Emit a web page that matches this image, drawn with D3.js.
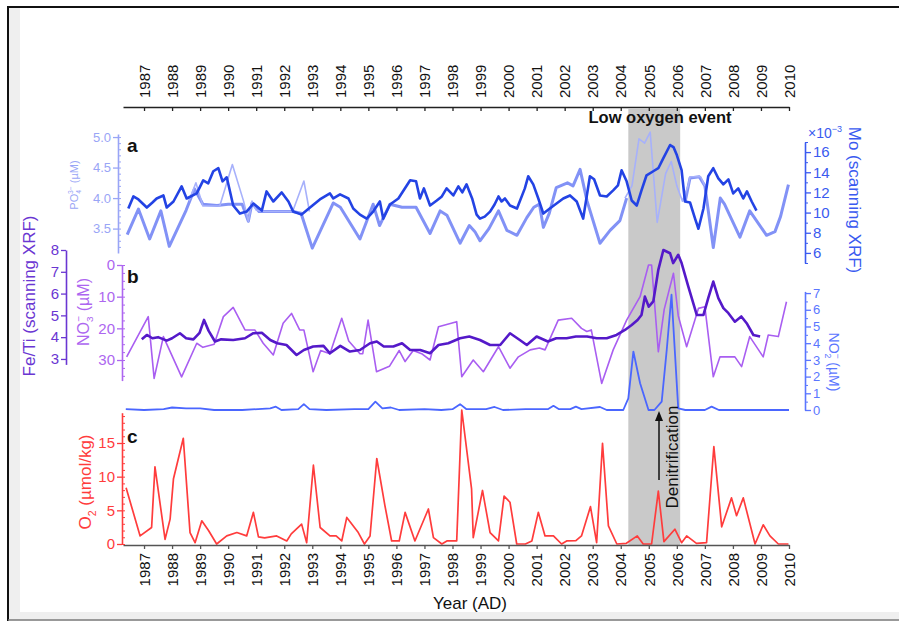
<!DOCTYPE html>
<html><head><meta charset="utf-8">
<script src="https://cdn.jsdelivr.net/npm/d3@7"></script>
<style>body{margin:0;background:#fff}svg{display:block;font-family:"Liberation Sans",Arial,sans-serif}</style>
</head><body><svg id="c" width="899" height="621"></svg>
<script>
// ---------------- DATA ----------------
const years = d3.range(1987, 2011);
const lowOxygen = [2004.27, 2006.12];

const po4Ticks = [3.5, 4.0, 4.5, 5.0];
const moTicks = [6, 8, 10, 12, 14, 16];
const fetiTicks = [3, 4, 5, 6, 7, 8];
const no3Ticks = [0, 10, 20, 30];
const no2Ticks = [0, 1, 2, 3, 4, 5, 6, 7];
const o2Ticks = [0, 5, 10, 15];

// PO4 (thick, interpolated series) [year, µM]
const po4Thick = [[1986.4,3.40],[1986.8,3.82],[1987.2,3.33],[1987.6,3.79],[1987.9,3.21],[1988.5,3.80],[1988.8,4.15],[1989.1,3.90],[1989.6,3.88],[1990.0,3.90],[1990.5,3.90],[1990.72,3.62],[1990.85,3.92],[1991.1,3.78],[1992.3,3.78],[1992.6,3.75],[1993.0,3.18],[1993.75,3.92],[1994.0,3.85],[1994.7,3.33],[1995.17,3.90],[1995.4,3.55],[1995.77,3.90],[1996.2,3.85],[1996.7,3.85],[1997.2,3.42],[1997.56,3.79],[1997.8,3.72],[1998.27,3.26],[1998.6,3.55],[1998.8,3.45],[1998.98,3.30],[1999.3,3.50],[1999.64,3.79],[1999.94,3.47],[2000.3,3.39],[2000.65,3.68],[2000.9,3.85],[2001.1,3.90],[2001.24,3.52],[2001.45,3.75],[2001.7,4.17],[2002.1,4.25],[2002.3,4.20],[2002.55,4.47],[2002.8,3.95],[2003.26,3.26],[2003.62,3.47],[2003.97,3.63],[2004.21,4.00],[NaN,NaN],[2006.3,3.95],[2006.47,4.33],[2006.8,4.35],[2007.0,4.20],[2007.3,3.19],[2007.55,4.00],[2007.7,3.90],[2008.25,3.36],[2008.6,3.79],[2009.2,3.39],[2009.5,3.45],[2009.7,3.70],[2009.98,4.22]];
// PO4 (thin, measured) [year, µM]
const po4Thin = [[1988.6,3.95],[1988.85,4.25],[1989.1,3.87],[1989.7,3.87],[1990.15,4.55],[1990.55,3.95],[1990.72,3.62],[1990.85,3.95],[1991.0,3.80],[1991.3,3.78],[1992.3,3.78],[1992.7,4.28],[1992.9,3.78],[NaN,NaN],[2004.15,4.00],[2004.4,4.20],[2004.65,4.97],[2004.85,4.90],[2005.05,5.08],[2005.3,3.60],[2005.6,4.40],[2005.8,4.60],[2006.0,4.20],[2006.2,3.95],[2006.4,4.20],[2006.47,4.35],[2006.85,4.35],[2007.0,4.20]];
// Mo (scanning XRF, x10^-3) [year, value]
const moData = [[1986.44,10.4],[1986.62,11.6],[1986.8,11.3],[1987.1,10.5],[1987.3,11.0],[1987.45,11.4],[1987.69,11.7],[1987.81,10.5],[1988.05,11.1],[1988.34,12.6],[1988.52,11.4],[1988.88,11.9],[1989.11,13.2],[1989.29,12.9],[1989.47,14.1],[1989.65,14.4],[1989.8,13.1],[1989.95,13.5],[1990.18,10.7],[1990.42,9.9],[1990.66,10.1],[1990.9,10.9],[1991.2,10.2],[1991.37,12.1],[1991.61,11.1],[1991.91,12.0],[1992.15,11.1],[1992.32,10.1],[1992.62,9.8],[1992.92,10.5],[1993.27,11.3],[1993.63,11.9],[1993.75,11.4],[1993.99,11.8],[1994.29,11.4],[1994.46,10.4],[1994.7,9.8],[1994.94,9.4],[1995.17,10.1],[1995.41,11.1],[1995.53,9.4],[1995.77,10.8],[1996.07,11.4],[1996.49,13.2],[1996.7,13.1],[1996.84,11.4],[1996.98,12.4],[1997.2,10.7],[1997.44,11.2],[1997.62,11.6],[1997.79,12.4],[1998.03,11.7],[1998.21,12.6],[1998.35,12.0],[1998.5,12.8],[1998.7,11.4],[1998.86,9.8],[1998.98,9.4],[1999.15,9.6],[1999.34,10.1],[1999.5,10.8],[1999.64,11.6],[1999.75,11.1],[1999.87,11.4],[2000.05,10.7],[2000.3,10.4],[2000.58,12.4],[2000.7,13.6],[2000.88,12.8],[2001.06,11.4],[2001.24,9.9],[2001.47,10.4],[2001.71,10.9],[2001.95,11.4],[2002.19,11.7],[2002.43,11.1],[2002.66,9.4],[2002.9,13.6],[2003.05,13.3],[2003.26,11.7],[2003.5,11.6],[2003.73,12.2],[2003.9,12.7],[2004.03,14.2],[2004.21,13.1],[2004.39,11.2],[2004.57,10.7],[2004.74,12.2],[2004.92,13.7],[2005.16,14.1],[2005.34,14.4],[2005.52,15.4],[2005.76,16.7],[2005.88,16.5],[2006.0,15.7],[2006.17,14.2],[2006.29,11.1],[2006.47,11.0],[2006.65,9.4],[2006.77,8.4],[2006.95,10.4],[2007.12,13.6],[2007.3,14.4],[2007.48,13.4],[2007.66,12.8],[2007.84,13.3],[2008.01,11.9],[2008.19,12.4],[2008.37,11.4],[2008.5,12.1],[2008.67,11.1],[2008.84,10.2]];
// Fe/Ti (scanning XRF)
const fetiData = [[1986.92,3.9],[1987.1,4.1],[1987.3,3.95],[1987.5,4.0],[1987.81,3.84],[1988.0,3.95],[1988.28,4.18],[1988.5,3.95],[1988.76,3.9],[1988.98,4.2],[1989.14,4.79],[1989.3,4.3],[1989.53,3.8],[1989.75,3.9],[1990.18,3.87],[1990.6,3.95],[1990.9,4.18],[1991.2,4.2],[1991.5,3.87],[1991.75,3.72],[1992.08,3.64],[1992.44,3.18],[1992.7,3.41],[1993.03,3.57],[1993.4,3.6],[1993.63,3.26],[1994.0,3.6],[1994.34,3.34],[1994.7,3.41],[1995.06,3.72],[1995.3,3.8],[1995.55,3.57],[1995.89,3.57],[1996.2,3.72],[1996.49,3.41],[1996.85,3.41],[1997.2,3.26],[1997.5,3.64],[1997.85,3.72],[1998.27,3.95],[1998.6,4.03],[1998.98,3.87],[1999.34,3.64],[1999.7,3.64],[2000.05,4.18],[2000.4,3.87],[2000.65,3.64],[2001.0,4.03],[2001.4,3.8],[2001.7,3.95],[2002.07,3.95],[2002.4,4.03],[2002.8,4.03],[2003.14,3.95],[2003.5,3.95],[2003.85,4.1],[2004.15,4.33],[2004.39,4.56],[2004.6,4.79],[2004.74,5.02],[2004.86,5.86],[2005.0,5.4],[2005.16,5.64],[2005.34,7.09],[2005.52,8.0],[2005.76,7.85],[2005.87,7.4],[2006.05,7.78],[2006.17,7.4],[2006.41,6.32],[2006.71,5.02],[2006.95,5.02],[2007.12,5.79],[2007.3,6.55],[2007.48,5.79],[2007.66,5.33],[2007.84,5.1],[2008.07,4.71],[2008.3,4.95],[2008.49,4.64],[2008.73,4.1],[2008.97,4.03]];
// NO3- (µM)
const no3Data = [[1986.38,29],[1987.15,16.3],[1987.36,35.8],[1987.69,22.6],[1988.34,35.3],[1988.88,24.7],[1989.1,26],[1989.5,25],[1989.83,16.3],[1990.18,13.4],[1990.6,20.5],[1990.95,20.5],[1991.25,24.7],[1991.61,28.4],[1991.96,18.4],[1992.26,15.3],[1992.55,20.5],[1992.7,20.5],[1993.03,33.7],[1993.3,27],[1993.63,28],[1994.05,16.8],[1994.3,24],[1994.7,28],[1994.8,28],[1994.99,17.4],[1995.29,33.7],[1995.75,32],[1996.1,27],[1996.31,30.5],[1996.6,27],[1996.9,28],[1997.2,30],[1997.5,19.5],[1998.15,17.9],[1998.33,35.3],[1998.74,30],[1999.1,33.7],[1999.64,25.8],[2000.05,32.6],[2000.35,29],[2000.77,26.8],[2001.1,26.2],[2001.3,26.8],[2001.77,17.4],[2002.25,16.8],[2002.6,20],[2002.79,21],[2002.95,20.5],[2003.32,37.4],[2003.73,26.8],[2004.21,17.4],[2004.69,10],[2004.99,0],[2005.1,0],[2005.34,27.4],[2005.55,14],[2005.88,2.6],[2006.05,16],[2006.35,25.8],[2006.77,13.7],[2007.0,13.2],[2007.3,35.3],[2007.54,29],[2008.07,29],[2008.31,32.1],[2008.6,22.6],[2009.08,29],[2009.26,22.1],[2009.62,22.6],[2009.91,11.6]];
// NO2- (µM)
const no2Data = [[1986.35,0.05],[1987.0,0],[1987.7,0.05],[1988.0,0.15],[1988.5,0.1],[1989.0,0.1],[1989.5,0],[1990.5,0],[1991.5,0.1],[1991.7,0.2],[1991.9,0],[1992.5,0.05],[1992.7,0.35],[1992.9,0.05],[1993.5,0],[1994.5,0.05],[1995.0,0.05],[1995.25,0.5],[1995.5,0.1],[1995.8,0.15],[1996.1,0],[1997.0,0.05],[1997.6,0],[1998.0,0.05],[1998.27,0.35],[1998.5,0.05],[1999.2,0.05],[1999.5,0.18],[1999.8,0],[2000.6,0.05],[2001.4,0.05],[2001.6,0.25],[2001.8,0.05],[2002.2,0.05],[2002.4,0.2],[2002.6,0.05],[2003.26,0.18],[2003.5,0],[2004.09,0],[2004.27,0.7],[2004.45,3.5],[2004.69,1.6],[2004.99,0],[2005.2,0],[2005.46,0.5],[2005.64,3.6],[2005.81,6.9],[2006.05,0.1],[2006.3,0],[2007.0,0],[2007.24,0.2],[2007.5,0],[2010.0,0]];
// O2 (µmol/kg)
const o2Data = [[1986.36,8.35],[1986.86,1.2],[1987.27,2.45],[1987.39,11.45],[1987.75,0.7],[1987.93,3.7],[1988.05,9.7],[1988.4,15.7],[1988.64,1.7],[1988.82,0.2],[1989.06,3.45],[1989.3,2.0],[1989.59,0],[1989.95,1.2],[1990.31,1.7],[1990.66,1.2],[1990.9,4.7],[1991.08,1.05],[1991.3,0.9],[1991.73,1.2],[1992.09,0.45],[1992.25,1.5],[1992.62,2.95],[1992.8,0.2],[1993.04,11.7],[1993.28,2.45],[1993.63,1.2],[1993.85,1.2],[1994.05,0.45],[1994.23,3.95],[1994.64,1.7],[1994.86,0],[1995.06,1.2],[1995.3,12.7],[1995.59,5.7],[1995.83,0.45],[1996.1,0.45],[1996.31,4.7],[1996.66,0.45],[1997.14,5.2],[1997.32,0.95],[1997.62,0],[1997.8,0.45],[1998.15,0.45],[1998.33,19.9],[1998.68,8.2],[1998.74,0.95],[1999.07,7.95],[1999.34,1.7],[1999.64,0.45],[1999.84,7.1],[2000.05,6.2],[2000.29,0],[2000.6,0],[2000.83,0.45],[2001.06,4.7],[2001.3,1.2],[2001.6,1.2],[2001.89,0],[2002.07,0.45],[2002.4,0.5],[2002.6,1.2],[2002.92,5.55],[2003.14,0.2],[2003.35,14.95],[2003.56,2.7],[2003.86,0],[2004.2,0.1],[2004.59,1.2],[2004.8,0],[2005.1,0],[2005.34,7.85],[2005.54,0.35],[2005.93,2.2],[2006.17,0.2],[2006.35,1.2],[2006.7,0.1],[2007.06,0.2],[2007.32,14.45],[2007.6,2.55],[2007.95,6.85],[2008.13,4.2],[2008.37,6.85],[2008.79,0],[2009.08,2.85],[2009.32,1.2],[2009.62,0],[2009.98,0]];

// ---------------- COLORS ----------------
const C = {
  po4Axis:"#99a5f6", po4Thick:"#8292f6", po4Thin:"#a7b1fb",
  mo:"#2343e4", moAxis:"#3a5af0",
  feti:"#5419c9", fetiAxis:"#6a36d2",
  no3:"#a95ef1", no3Axis:"#ad66f0",
  no2:"#4a66ff", no2Axis:"#5a76ff",
  o2:"#ff3c3c"
};

const svg = d3.select("#c");
// frame
svg.append("rect").attr("width",899).attr("height",621).attr("fill","#fff");
svg.append("rect").attr("x",9).attr("y",8).attr("width",11).attr("height",612).attr("fill","#efefef");
svg.append("rect").attr("x",9).attr("y",612).attr("width",890).attr("height",7).attr("fill","#efefef");
svg.append("line").attr("x1",8).attr("x2",899).attr("y1",7).attr("y2",7).attr("stroke","#111").attr("stroke-width",2);
svg.append("line").attr("x1",8).attr("x2",8).attr("y1",6).attr("y2",621).attr("stroke","#111").attr("stroke-width",2);
svg.append("line").attr("x1",8).attr("x2",899).attr("y1",620).attr("y2",620).attr("stroke","#777").attr("stroke-width",1.5);

// ---------------- SCALES ----------------
const x = d3.scaleLinear().domain([1986.25, 2010]).range([123, 789]);
const yPO4 = d3.scaleLinear().domain([3.1, 5.05]).range([253, 134]);
const yMo = d3.scaleLinear().domain([5, 17]).range([263, 142]);
const yFeTi = d3.scaleLinear().domain([2.75, 8]).range([364.4, 250]);
const yNO3 = d3.scaleLinear().domain([0, 36.5]).range([265, 380.6]);
const yNO2 = d3.scaleLinear().domain([0, 7.1]).range([410, 291.4]);
const yO2 = d3.scaleLinear().domain([0, 19.5]).range([544, 412.7]);

// low oxygen band
svg.append("rect").attr("x", x(lowOxygen[0])).attr("width", x(lowOxygen[1]) - x(lowOxygen[0]))
  .attr("y",109).attr("height",545-109).attr("fill","#c9c9c9");

function drawLine(data, ys, color, w, op){
  const line = d3.line().defined(d => !isNaN(d[0])).x(d => x(d[0])).y(d => ys(d[1]));
  svg.append("path").datum(data).attr("d", line).attr("fill","none")
    .attr("stroke", color).attr("stroke-width", w).attr("stroke-linejoin","round")
    .attr("stroke-opacity", op || 1);
}

drawLine(po4Thick, yPO4, C.po4Thick, 3);
drawLine(po4Thin, yPO4, C.po4Thin, 1.6);
drawLine(moData, yMo, C.mo, 2.6);
drawLine(no3Data, yNO3, C.no3, 1.6);
drawLine(fetiData, yFeTi, C.feti, 2.6);
drawLine(no2Data, yNO2, C.no2, 1.8);
drawLine(o2Data, yO2, C.o2, 1.7);

// ---------------- AXES ----------------
function styleAxis(g, color, fs){
  g.selectAll("path.domain").attr("stroke", color).attr("stroke-width",1.6);
  g.selectAll(".tick line").attr("stroke", color).attr("stroke-width",1.3);
  g.selectAll(".tick text").attr("fill", color).attr("font-size", fs).attr("font-family","Liberation Sans, Arial, sans-serif");
}

// top year axis
const gTop = svg.append("g").attr("transform","translate(0,107)")
  .call(d3.axisTop(x).tickValues(years).tickFormat(d3.format("d")).tickSize(-4).tickSizeOuter(0));
styleAxis(gTop, "#222", 15);
gTop.selectAll(".tick text").attr("transform","rotate(-90)").attr("x",9).attr("y",0).attr("dy","0.35em").style("text-anchor","start").attr("fill","#111");

// bottom year axis
const gBot = svg.append("g").attr("transform","translate(0,545)")
  .call(d3.axisBottom(x).tickValues(years).tickFormat(d3.format("d")).tickSize(4).tickSizeOuter(0));
styleAxis(gBot, "#555", 15);
gBot.selectAll(".tick text").attr("transform","rotate(-90)").attr("x",-8).attr("y",0).attr("dy","0.35em").style("text-anchor","end").attr("fill","#111");

function leftAxis(xp, ys, ticks, minor, color, fs, fmt){
  const g = svg.append("g").attr("transform",`translate(${xp},0)`)
    .call(d3.axisLeft(ys).tickValues(ticks).tickFormat(fmt).tickSize(5).tickSizeOuter(0).tickPadding(2));
  styleAxis(g, color, fs);
  if (minor){
    const gm = svg.append("g").attr("transform",`translate(${xp},0)`)
      .call(d3.axisRight(ys).tickValues(minor).tickFormat("").tickSize(3).tickSizeOuter(0));
    gm.select("path.domain").remove();
    gm.selectAll(".tick line").attr("stroke", color).attr("stroke-width",1);
  }
  return g;
}
function rightAxis(xp, ys, ticks, minor, color, fs, fmt){
  const g = svg.append("g").attr("transform",`translate(${xp},0)`)
    .call(d3.axisRight(ys).tickValues(ticks).tickFormat(fmt).tickSize(6).tickSizeOuter(0).tickPadding(2));
  styleAxis(g, color, fs);
  if (minor){
    const gm = svg.append("g").attr("transform",`translate(${xp},0)`)
      .call(d3.axisRight(ys).tickValues(minor).tickFormat("").tickSize(3).tickSizeOuter(0));
    gm.select("path.domain").remove();
    gm.selectAll(".tick line").attr("stroke", color).attr("stroke-width",1);
  }
  return g;
}

leftAxis(118, yPO4, po4Ticks, d3.range(32,51).map(d=>d/10), C.po4Axis, 13, d3.format(".1f"));
rightAxis(805, yMo, moTicks, [5,7,9,11,13,15,17], C.moAxis, 15, d3.format("d"));
leftAxis(66, yFeTi, fetiTicks, null, C.fetiAxis, 15, d3.format("d"));
leftAxis(122, yNO3, no3Ticks, d3.range(0,36.1,2.5), C.no3Axis, 15, d3.format("d"));
rightAxis(805, yNO2, no2Ticks, d3.range(0.5,7,1), C.no2Axis, 13, d3.format("d"));
leftAxis(122, yO2, o2Ticks, d3.range(0,20,1), C.o2, 15, d3.format("d"));

// ---------------- TEXT ----------------
function richText(cx, cy, rot, parts, size, color, weight){
  const g = svg.append("g").attr("transform",`translate(${cx},${cy}) rotate(${rot})`);
  const t = g.append("text").attr("text-anchor","middle").attr("font-size", size)
    .attr("fill", color).attr("font-weight", weight || "normal");
  let off = 0;
  parts.forEach(p => {
    const target = p.s === "sub" ? size*0.3 : p.s === "sup" ? -size*0.4 : 0;
    const ts = t.append("tspan").text(p.t).attr("dy", target - off);
    if (p.s) ts.attr("font-size", size*0.62);
    if (p.dx) ts.attr("dx", p.dx);
    off = target;
  });
  return t;
}

richText(73.5+4, 185, -90, [{t:"PO"},{t:"4",s:"sub"},{t:"3−",s:"sup",dx:-4},{t:" (µM)"}], 11, C.po4Axis);
richText(28.5+6, 296, -90, [{t:"Fe/Ti (scanning XRF)"}], 17, C.fetiAxis);
richText(82.5+6, 312, -90, [{t:"NO"},{t:"3",s:"sub"},{t:"−",s:"sup",dx:-5},{t:" (µM)"}], 16, C.no3Axis);
richText(85+6, 482, -90, [{t:"O"},{t:"2",s:"sub"},{t:" (µmol/kg)"}], 17, C.o2);
richText(855-6, 200, 90, [{t:"Mo (scanning XRF)"}], 17, C.moAxis);
richText(834-5, 362, 90, [{t:"NO"},{t:"2",s:"sub"},{t:"−",s:"sup",dx:-5},{t:" (µM)"}], 14, C.no2Axis);

// x10^-3
const mx = svg.append("text").attr("x",808).attr("y",138).attr("font-size",14).attr("fill",C.moAxis);
mx.append("tspan").text("×10");
mx.append("tspan").text("−3").attr("font-size",9).attr("dy",-6);

// panel letters
[["a",152],["b",283],["c",443]].forEach(([l,yy]) =>
  svg.append("text").attr("x",127).attr("y",yy).attr("font-size",19).attr("font-weight","bold").attr("fill","#111").text(l));

svg.append("text").attr("x",660).attr("y",123).attr("text-anchor","middle").attr("font-size",16.5)
  .attr("font-weight","bold").attr("fill","#111").text("Low oxygen event");

svg.append("text").attr("x",470).attr("y",609).attr("text-anchor","middle").attr("font-size",17)
  .attr("fill","#111").text("Year (AD)");

// Denitrification + arrow
svg.append("text").attr("transform","translate(678,457) rotate(-90)").attr("text-anchor","middle")
  .attr("font-size",17).attr("fill","#111").text("Denitrification");
svg.append("line").attr("x1",659).attr("x2",659).attr("y1",480).attr("y2",419).attr("stroke","#111").attr("stroke-width",1.5);
svg.append("path").attr("d","M659,411 L655,421 L663,421 Z").attr("fill","#111");
</script></body></html>
